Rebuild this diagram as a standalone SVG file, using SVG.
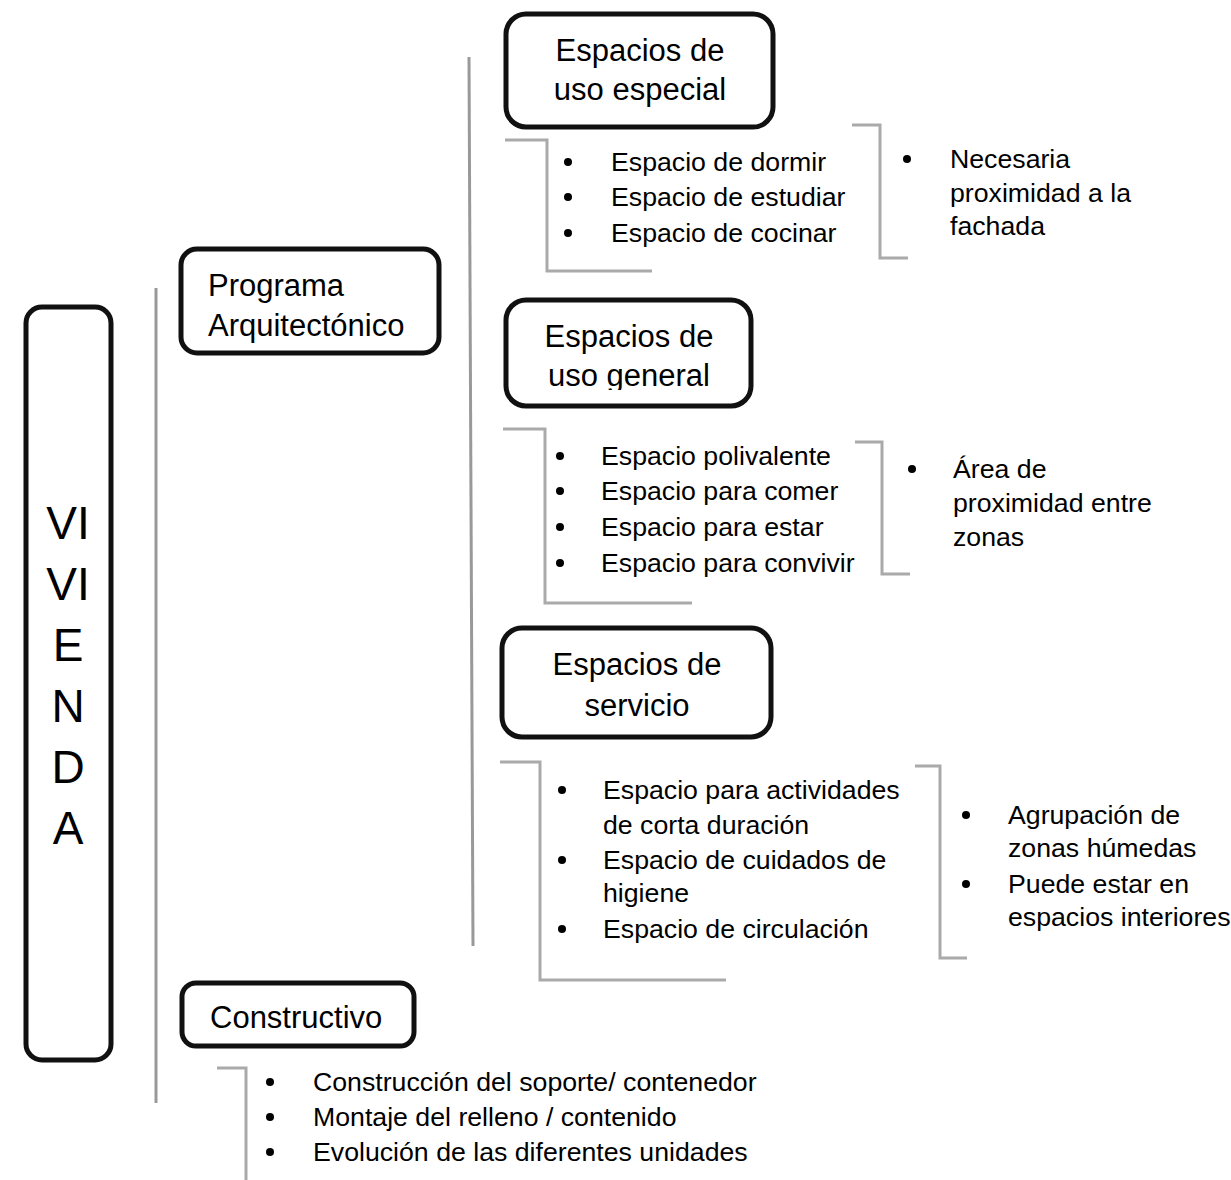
<svg xmlns="http://www.w3.org/2000/svg" width="1231" height="1180" viewBox="0 0 1231 1180">
  <style>
    .box { fill: #fff; stroke: #111; stroke-width: 5; }
    .head { font-family: "Liberation Sans", Arial, sans-serif; font-size: 31px; fill: #000; }
    .item { font-family: "Liberation Sans", Arial, sans-serif; font-size: 26.7px; fill: #000; }
    .big { font-family: "Liberation Sans", Arial, sans-serif; font-size: 46px; fill: #000; text-anchor: middle; }
    .mid { text-anchor: middle; }
    .trunk { fill: none; stroke: #999; stroke-width: 3; }
    .brk { fill: none; stroke: #aaa; stroke-width: 3; }
    .dot { fill: #000; }
  </style>
  <defs>
    <clipPath id="clipGeneral">
      <rect x="500" y="290" width="260" height="100"/>
    </clipPath>
  </defs>
  <rect width="1231" height="1180" fill="#fff"/>

  <!-- connectors: trunks and brackets -->
  <g id="connectors">
    <line class="trunk" x1="156" y1="288" x2="156" y2="1103"/>
    <line class="trunk" x1="469" y1="57" x2="473" y2="946"/>
    <polyline class="brk" points="505,140 547,140 547,271 652,271"/>
    <polyline class="brk" points="852,125 880,125 880,258 908,258"/>
    <polyline class="brk" points="503,429 545,429 545,603 692,603"/>
    <polyline class="brk" points="855,442 882,442 882,574 910,574"/>
    <polyline class="brk" points="500,762 540,762 540,980 726,980"/>
    <polyline class="brk" points="915,766 940,766 940,958 967,958"/>
    <polyline class="brk" points="217,1068 246,1068 246,1180"/>
  </g>

  <!-- root -->
  <g id="vivienda">
    <rect class="box" x="26" y="307" width="85" height="753" rx="16"/>
    <text class="big" x="68" y="539">VI</text>
    <text class="big" x="68" y="600">VI</text>
    <text class="big" x="68" y="661">E</text>
    <text class="big" x="68" y="722">N</text>
    <text class="big" x="68" y="783">D</text>
    <text class="big" x="68" y="844">A</text>
  </g>

  <g id="programa">
    <rect class="box" x="181" y="249" width="258" height="104" rx="16"/>
    <text class="head" x="208" y="296">Programa</text>
    <text class="head" x="208" y="336">Arquitectónico</text>
  </g>

  <g id="uso-especial">
    <rect class="box" x="506" y="14" width="267" height="113" rx="20"/>
    <text class="head mid" x="640" y="61">Espacios de</text>
    <text class="head mid" x="640" y="100">uso especial</text>
  </g>
  <g id="lista-especial">
    <circle class="dot" cx="568" cy="162" r="4"/>
    <circle class="dot" cx="568" cy="197" r="4"/>
    <circle class="dot" cx="568" cy="233" r="4"/>
    <text class="item" x="611" y="171">Espacio de dormir</text>
    <text class="item" x="611" y="206">Espacio de estudiar</text>
    <text class="item" x="611" y="242">Espacio de cocinar</text>
  </g>
  <g id="nota-especial">
    <circle class="dot" cx="907" cy="159" r="4"/>
    <text class="item" x="950" y="168">Necesaria</text>
    <text class="item" x="950" y="202">proximidad a la</text>
    <text class="item" x="950" y="235">fachada</text>
  </g>

  <g id="uso-general">
    <rect class="box" x="506" y="300" width="245" height="106" rx="20"/>
    <text class="head mid" x="629" y="347">Espacios de</text>
    <text class="head mid" x="629" y="386" clip-path="url(#clipGeneral)">uso general</text>
  </g>
  <g id="lista-general">
    <circle class="dot" cx="560" cy="456" r="4"/>
    <circle class="dot" cx="560" cy="491" r="4"/>
    <circle class="dot" cx="560" cy="527" r="4"/>
    <circle class="dot" cx="560" cy="563" r="4"/>
    <text class="item" x="601" y="465">Espacio polivalente</text>
    <text class="item" x="601" y="500">Espacio para comer</text>
    <text class="item" x="601" y="536">Espacio para estar</text>
    <text class="item" x="601" y="572">Espacio para convivir</text>
  </g>
  <g id="nota-general">
    <circle class="dot" cx="912" cy="469" r="4"/>
    <text class="item" x="953" y="478">Área de</text>
    <text class="item" x="953" y="512">proximidad entre</text>
    <text class="item" x="953" y="546">zonas</text>
  </g>

  <g id="servicio">
    <rect class="box" x="502" y="628" width="269" height="109" rx="20"/>
    <text class="head mid" x="637" y="675">Espacios de</text>
    <text class="head mid" x="637" y="716">servicio</text>
  </g>
  <g id="lista-servicio">
    <circle class="dot" cx="562" cy="790" r="4"/>
    <circle class="dot" cx="562" cy="860" r="4"/>
    <circle class="dot" cx="562" cy="929" r="4"/>
    <text class="item" x="603" y="799">Espacio para actividades</text>
    <text class="item" x="603" y="834">de corta duración</text>
    <text class="item" x="603" y="869">Espacio de cuidados de</text>
    <text class="item" x="603" y="902">higiene</text>
    <text class="item" x="603" y="938">Espacio de circulación</text>
  </g>
  <g id="nota-servicio">
    <circle class="dot" cx="966" cy="815" r="4"/>
    <circle class="dot" cx="966" cy="884" r="4"/>
    <text class="item" x="1008" y="824">Agrupación de</text>
    <text class="item" x="1008" y="857">zonas húmedas</text>
    <text class="item" x="1008" y="893">Puede estar en</text>
    <text class="item" x="1008" y="926">espacios interiores</text>
  </g>

  <g id="constructivo">
    <rect class="box" x="182" y="983" width="232" height="63" rx="14"/>
    <text class="head" x="210" y="1028">Constructivo</text>
  </g>
  <g id="lista-constructivo">
    <circle class="dot" cx="270" cy="1082" r="4"/>
    <circle class="dot" cx="270" cy="1117" r="4"/>
    <circle class="dot" cx="270" cy="1152" r="4"/>
    <text class="item" x="313" y="1091">Construcción del soporte/ contenedor</text>
    <text class="item" x="313" y="1126">Montaje del relleno / contenido</text>
    <text class="item" x="313" y="1161">Evolución de las diferentes unidades</text>
  </g>
</svg>
